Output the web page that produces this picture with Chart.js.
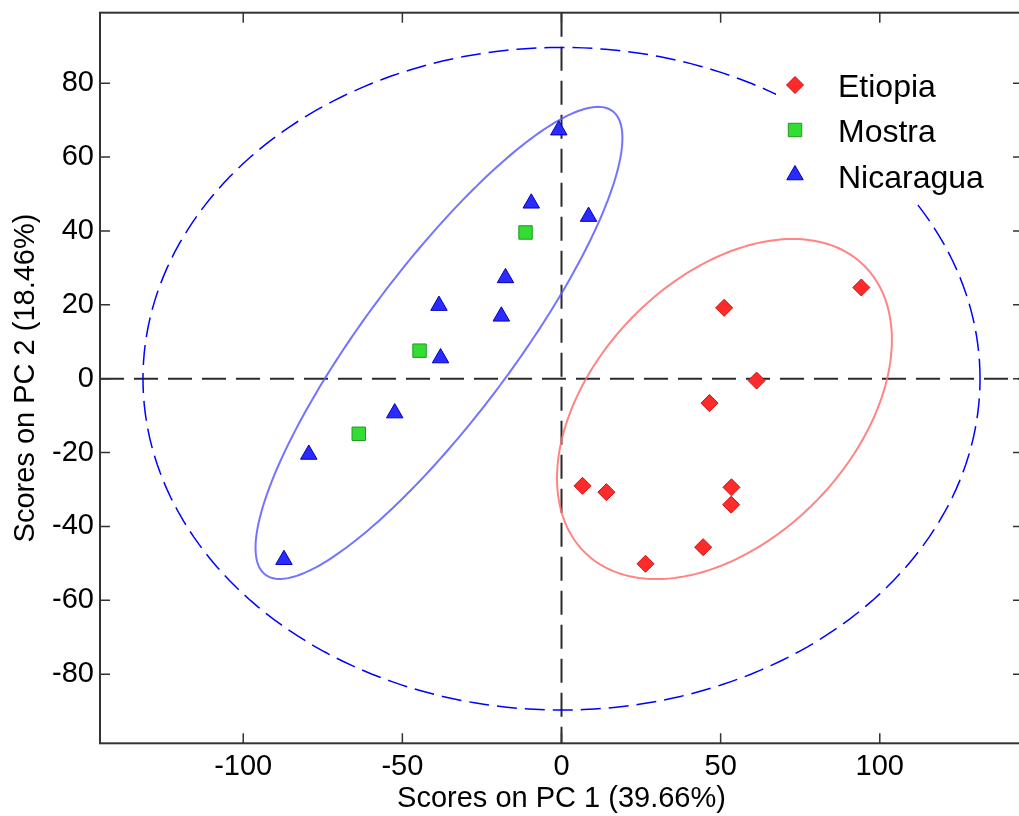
<!DOCTYPE html>
<html>
<head>
<meta charset="utf-8">
<script src="https://cdn.jsdelivr.net/npm/chart.js@4.4.0/dist/chart.umd.min.js"></script>
<style>
  html, body { margin: 0; padding: 0; background: #fff; overflow: hidden; }
  #wrap { position: relative; width: 1030px; height: 816px; }
</style>
</head>
<body>
<div id="wrap"><canvas id="pca" width="1030" height="816"></canvas></div>
<script>
// PCA scores (PC1, PC2) per origin
const ETIOPIA_PC1 = [94.2, 51.1, 61.3, 46.5, 6.6, 14.1, 53.4, 53.3, 44.5, 26.4];
const ETIOPIA_PC2 = [24.7, 19.2, -0.5, -6.6, -29.0, -30.7, -29.4, -34.1, -45.6, -50.1];
const MOSTRA_PC1 = [-11.3, -44.6, -63.7];
const MOSTRA_PC2 = [39.6, 7.6, -14.9];
const NICARAGUA_PC1 = [-0.85, -9.5, 8.5, -17.6, -38.5, -18.9, -38.0, -52.4, -79.4, -87.2];
const NICARAGUA_PC2 = [67.3, 47.5, 43.9, 27.3, 19.8, 16.9, 5.6, -9.3, -20.5, -49.0];

// confidence ellipses: [centre PC1, centre PC2, semi-axis a, semi-axis b, angle in degrees]
const ELL_NICARAGUA = [-38.5, 9.7, 83.2, 22.0, 48.4];
const ELL_ETIOPIA = [51.2, -8.2, 59.0, 37.5, 35.9];
const ELL_LIMIT = [0, 0, 131.5, 89.7, 0];

const X_TICKS = [-100, -50, 0, 50, 100];
const Y_TICKS = [-80, -60, -40, -20, 0, 20, 40, 60, 80];
const X_RANGE = [-145, 145];
const Y_RANGE = [-98.7, 99.1];

const FONT = '"Liberation Sans", Arial, Helvetica, sans-serif';
Chart.defaults.font.family = FONT;
Chart.defaults.color = '#000';

const pts = (xs, ys) => xs.map((x, i) => ({ x: x, y: ys[i] }));

function ellipsePath(ctx, sx, sy, e) {
  const [cx, cy, a, b, deg] = e;
  const th = deg * Math.PI / 180;
  const n = 240;
  ctx.beginPath();
  for (let i = 0; i <= n; i++) {
    const t = i / n * 2 * Math.PI;
    const px = cx + a * Math.cos(t) * Math.cos(th) - b * Math.sin(t) * Math.sin(th);
    const py = cy + a * Math.cos(t) * Math.sin(th) + b * Math.sin(t) * Math.cos(th);
    const X = sx.getPixelForValue(px), Y = sy.getPixelForValue(py);
    if (i === 0) ctx.moveTo(X, Y); else ctx.lineTo(X, Y);
  }
}

// zero lines + ellipses under the points
const underlay = {
  id: 'underlay',
  beforeDatasetsDraw(chart) {
    const { ctx, chartArea: ca, scales: { x, y } } = chart;
    ctx.save();
    ctx.strokeStyle = '#2a2a2a';
    ctx.lineWidth = 2;
    ctx.setLineDash([24, 10]);
    const x0 = x.getPixelForValue(0), y0 = y.getPixelForValue(0);
    ctx.beginPath(); ctx.moveTo(x0, ca.top); ctx.lineTo(x0, ca.bottom); ctx.stroke();
    ctx.beginPath(); ctx.moveTo(ca.left, y0); ctx.lineTo(ca.right, y0); ctx.stroke();

    ctx.setLineDash([20, 8]);
    ctx.strokeStyle = '#0000ff';
    ctx.lineWidth = 1.5;
    ellipsePath(ctx, x, y, ELL_LIMIT); ctx.stroke();

    ctx.setLineDash([]);
    ctx.lineWidth = 2;
    ctx.strokeStyle = 'rgba(90,90,255,0.85)';
    ellipsePath(ctx, x, y, ELL_NICARAGUA); ctx.stroke();
    ctx.strokeStyle = 'rgba(255,110,110,0.85)';
    ellipsePath(ctx, x, y, ELL_ETIOPIA); ctx.stroke();
    ctx.restore();
  }
};

// legend box inside the plot, top right
const insideLegend = {
  id: 'insideLegend',
  afterDatasetsDraw(chart) {
    const { ctx } = chart;
    const rows = [97, 142, 188];
    ctx.save();
    ctx.fillStyle = '#fff';
    ctx.fillRect(776, 58, 230, 146);
    chart.data.datasets.forEach((ds, i) => {
      const my = rows[i] - 12 + (ds.pointStyle === 'triangle' ? -1 : 0);
      ctx.fillStyle = ds.backgroundColor;
      ctx.strokeStyle = ds.borderColor;
      ctx.lineWidth = ds.borderWidth;
      Chart.helpers.drawPoint(ctx, { pointStyle: ds.pointStyle, radius: ds.pointRadius, borderWidth: ds.borderWidth, rotation: 0 }, 795, my);
      ctx.fillStyle = '#000';
      ctx.font = '32px ' + FONT;
      ctx.textAlign = 'left';
      ctx.textBaseline = 'alphabetic';
      ctx.fillText(ds.label, 838, rows[i]);
    });
    ctx.restore();
  }
};

// box frame with inward ticks on all four sides (right border falls just past the picture edge)
const frame = {
  id: 'frame',
  afterDraw(chart) {
    const { ctx, chartArea: ca, scales: { x, y } } = chart;
    ctx.save();
    ctx.strokeStyle = '#333';
    ctx.lineWidth = 2;
    ctx.strokeRect(ca.left, ca.top, ca.right - ca.left, ca.bottom - ca.top);
    ctx.lineWidth = 1.5;
    ctx.beginPath();
    X_TICKS.forEach(v => {
      const px = x.getPixelForValue(v);
      ctx.moveTo(px, ca.bottom); ctx.lineTo(px, ca.bottom - 10);
      ctx.moveTo(px, ca.top); ctx.lineTo(px, ca.top + 10);
    });
    Y_TICKS.forEach(v => {
      const py = y.getPixelForValue(v);
      ctx.moveTo(ca.left, py); ctx.lineTo(ca.left + 10, py);
      ctx.moveTo(ca.right, py); ctx.lineTo(ca.right - 10, py);
    });
    ctx.stroke();
    ctx.restore();
  }
};

new Chart(document.getElementById('pca'), {
  type: 'scatter',
  data: {
    datasets: [
      { label: 'Etiopia', data: pts(ETIOPIA_PC1, ETIOPIA_PC2), pointStyle: 'rectRot', pointRadius: 8.5,
        backgroundColor: '#ff2b2b', borderColor: '#cc1010', borderWidth: 1 },
      { label: 'Mostra', data: pts(MOSTRA_PC1, MOSTRA_PC2), pointStyle: 'rect', pointRadius: 9.5,
        backgroundColor: '#33dd33', borderColor: '#1f9a1f', borderWidth: 1 },
      { label: 'Nicaragua', data: pts(NICARAGUA_PC1, NICARAGUA_PC2), pointStyle: 'triangle', pointRadius: 9.5,
        backgroundColor: '#2b2bff', borderColor: '#0000c0', borderWidth: 1 }
    ]
  },
  options: {
    responsive: false,
    animation: false,
    layout: { autoPadding: false, padding: { top: 12.7, right: 7, left: 0, bottom: 0 } },
    plugins: { legend: { display: false }, tooltip: { enabled: false } },
    scales: {
      x: {
        type: 'linear', min: X_RANGE[0], max: X_RANGE[1],
        afterBuildTicks: s => { s.ticks = X_TICKS.map(v => ({ value: v })); },
        afterFit: s => { s.height = 816 - 743.3; s.paddingLeft = 0; s.paddingRight = 0; },
        grid: { display: false, drawTicks: false },
        border: { display: false },
        ticks: { font: { size: 29 }, padding: 6, maxRotation: 0 },
        title: { display: true, text: 'Scores on PC 1 (39.66%)', font: { size: 29 }, padding: { top: 0, bottom: 0 } }
      },
      y: {
        type: 'linear', min: Y_RANGE[0], max: Y_RANGE[1],
        afterBuildTicks: s => { s.ticks = Y_TICKS.map(v => ({ value: v })); },
        afterFit: s => { s.width = 100; s.paddingTop = 0; s.paddingBottom = 0; },
        grid: { display: false, drawTicks: false },
        border: { display: false },
        ticks: { font: { size: 29 }, padding: 6 },
        title: { display: true, text: 'Scores on PC 2 (18.46%)', font: { size: 29 }, padding: { top: 9, bottom: 0 } }
      }
    }
  },
  plugins: [underlay, insideLegend, frame]
});
</script>
</body>
</html>
